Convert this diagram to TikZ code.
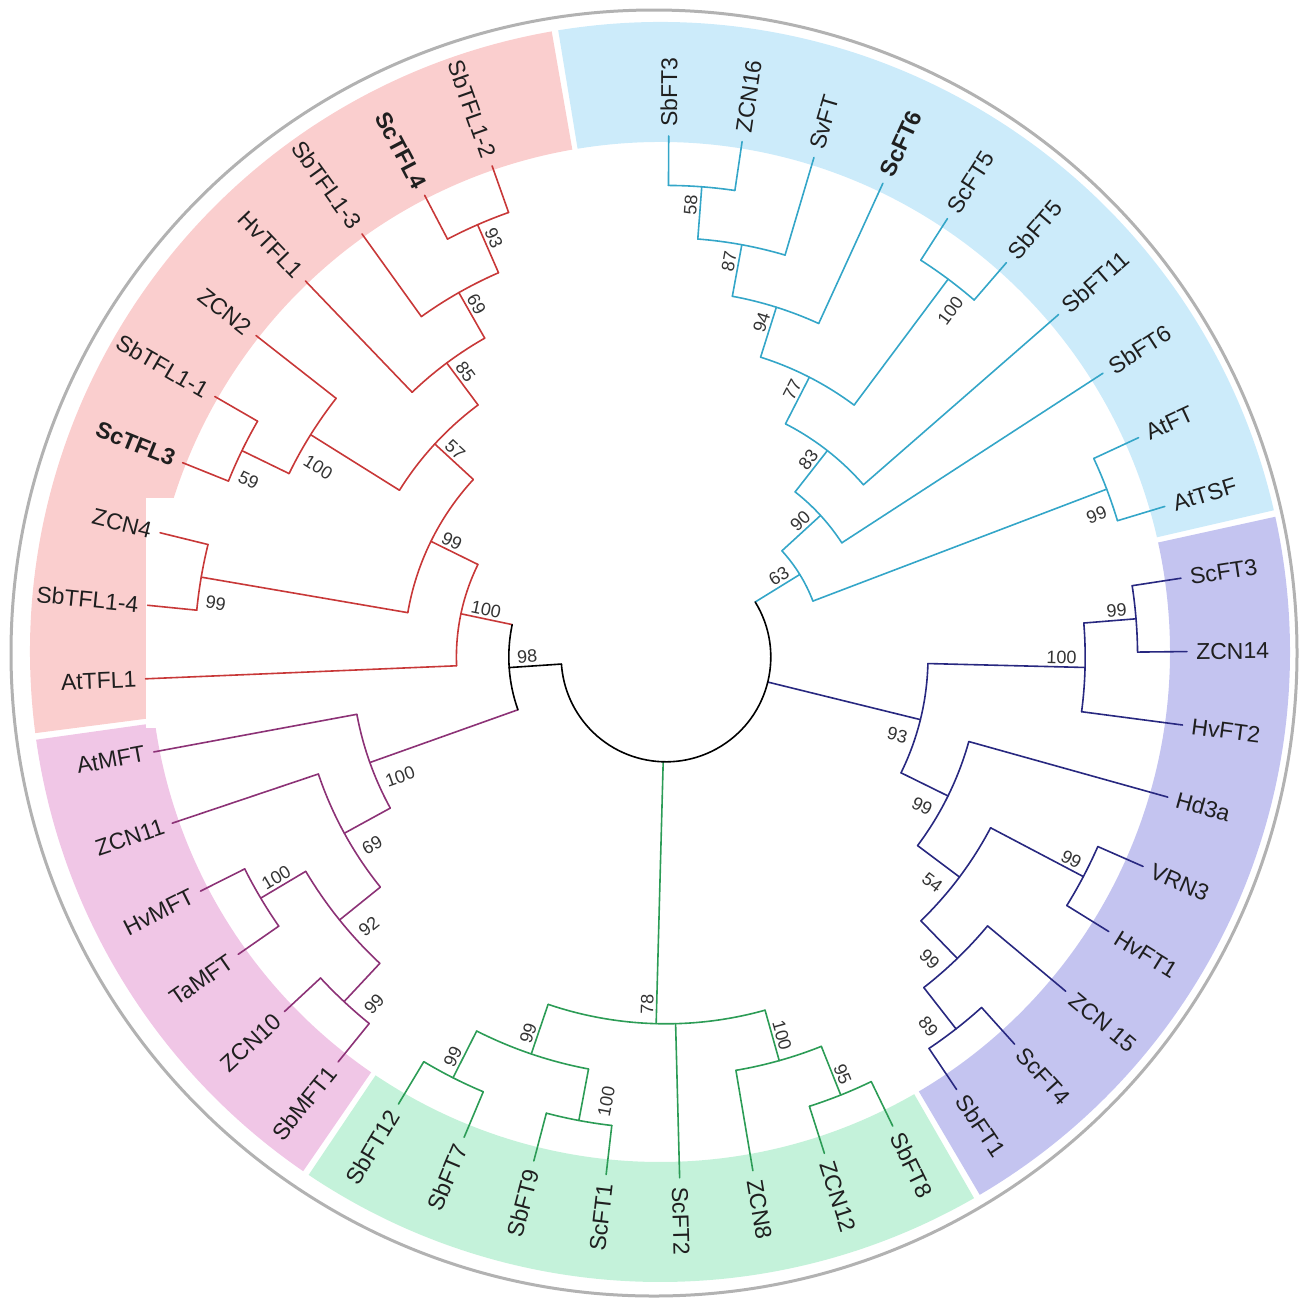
\documentclass[tikz,border=0pt]{standalone}
\usepackage{fontspec}
\setmainfont{Liberation Sans}
\usetikzlibrary{calc}

\definecolor{tflred}{RGB}{200,56,56}
\definecolor{mftpurple}{RGB}{140,50,118}
\definecolor{fegreen}{RGB}{44,156,86}
\definecolor{ftnavy}{RGB}{40,40,128}
\definecolor{ftblue}{RGB}{52,166,200}
\definecolor{bandpink}{RGB}{250,206,206}
\definecolor{bandblue}{RGB}{204,235,250}
\definecolor{bandpurple}{RGB}{196,196,240}
\definecolor{bandgreen}{RGB}{196,242,218}
\definecolor{bandmft}{RGB}{240,198,230}

\begin{document}
\begin{tikzpicture}[x=1pt,y=1pt,
  leaf/.style={font=\fontsize{23}{26}\selectfont,text=black!88,inner xsep=9pt,inner ysep=2pt},
  boot/.style={font=\fontsize{18}{20}\selectfont,text=black!80,inner xsep=1.5pt},
  bootse/.style={anchor=south east,inner ysep=3pt},
  bootsw/.style={anchor=south west,inner ysep=3pt},
  bootne/.style={anchor=north east,inner ysep=14pt},
  bootnw/.style={anchor=north west,inner ysep=17pt},
  branch/.style={line width=1.6pt,line cap=round,line join=round}]
\useasboundingbox (0,0) rectangle (1303,-1302);

% coloured bands
\begin{scope}[shift={(660,-652)}]
\foreach \col/\fa/\fb in {bandblue/13.0/99.3, bandpink/99.9/187.4, bandmft/188.0/235.5,
                          bandgreen/236.1/299.9, bandpurple/300.5/372.4}
  \fill[\col] (\fa:510) arc[start angle=\fa, end angle=\fb, radius=510]
     -- (\fb:630) arc[start angle=\fb, end angle=\fa, radius=630] -- cycle;
\end{scope}
\fill[white] (146,-498) rectangle (230,-728);
\draw[gray!60, line width=3pt] (654,-653) circle[radius=643];

\begin{scope}[shift={(666,-657)}]
% leaves
\foreach \i/\nm/\txt/\plev/\col in {
  0/sbft3/SbFT3/1/ftblue, 1/zcn16/ZCN16/1/ftblue, 2/svft/SvFT/2/ftblue,
  3/scft6/{\bfseries ScFT6}/3/ftblue, 4/scft5/ScFT5/1/ftblue, 5/sbft5/SbFT5/1/ftblue,
  6/sbft11/SbFT11/5/ftblue, 7/sbft6/SbFT6/6/ftblue, 8/atft/AtFT/1/ftblue,
  9/attsf/AtTSF/1/ftblue,
  10/scft3/ScFT3/1/ftnavy, 11/zcn14/ZCN14/1/ftnavy, 12/hvft2/HvFT2/2/ftnavy,
  13/hd3a/Hd3a/4/ftnavy, 14/vrn3/VRN3/1/ftnavy, 15/hvft1/HvFT1/1/ftnavy,
  16/zcn15/ZCN 15/2/ftnavy, 17/scft4/ScFT4/1/ftnavy, 18/sbft1/SbFT1/1/ftnavy,
  19/sbft8/SbFT8/1/fegreen, 20/zcn12/ZCN12/1/fegreen, 21/zcn8/ZCN8/2/fegreen,
  22/scft2/ScFT2/3/fegreen, 23/scft1/ScFT1/1/fegreen, 24/sbft9/SbFT9/1/fegreen,
  25/sbft7/SbFT7/1/fegreen, 26/sbft12/SbFT12/1/fegreen,
  27/sbmft1/SbMFT1/1/mftpurple, 28/zcn10/ZCN10/1/mftpurple, 29/tamft/TaMFT/1/mftpurple,
  30/hvmft/HvMFT/1/mftpurple, 31/zcn11/ZCN11/3/mftpurple, 32/atmft/AtMFT/4/mftpurple,
  33/attfl1/AtTFL1/6/tflred, 34/sbtfl14/SbTFL1-4/1/tflred, 35/zcn4/ZCN4/1/tflred,
  36/sctfl3/{\bfseries ScTFL3}/1/tflred, 37/sbtfl11/SbTFL1-1/1/tflred,
  38/zcn2/ZCN2/2/tflred, 39/hvtfl1/HvTFL1/3/tflred, 40/sbtfl13/SbTFL1-3/2/tflred,
  41/sctfl4/{\bfseries ScTFL4}/1/tflred, 42/sbtfl12/SbTFL1-2/1/tflred}{
  \pgfmathsetmacro\ang{89.7-8.1*\i}
  \pgfmathsetmacro\rpar{524-52.4*\plev}
  \coordinate (\nm) at (\ang:521);
  \coordinate (\nm-foot) at (\ang:\rpar);
  \draw[branch,\col] (\nm) -- (\nm-foot);
  \ifnum\i<23
    \node[leaf,rotate=\ang,anchor=west] (\nm-lab) at (\nm) {\txt};
  \else
    \node[leaf,rotate=\ang+180,anchor=east] (\nm-lab) at (\nm) {\txt};
  \fi
}

% inner nodes: name/angle/level/parent level/colour/bootstrap/rotation/side
\foreach \nm/\ang/\lev/\plev/\col/\bsv/\rot/\side in {
  b1/85.65/1/2/ftblue/58/85.65/bootse, b2/79.58/2/3/ftblue/87/79.58/bootse,
  b3/72.49/3/4/ftblue/94/72.49/bootse, b4/53.25/1/4/ftblue/100/53.25/bootne,
  b5/62.87/4/5/ftblue/77/62.87/bootse, b6/51.98/5/6/ftblue/83/51.98/bootse,
  b7/42.49/6/7/ftblue/90/42.49/bootse, b8/20.85/1/7/ftblue/99/20.85/bootne,
  b9/31.67/7/8/ftblue/63/31.67/bootse,
  p1/4.65/1/2/ftnavy/99/4.65/bootse, p2/-1.43/2/5/ftnavy/100/-1.43/bootse,
  p3/-27.75/1/3/ftnavy/99/-27.75/bootse, p4/-52.05/1/2/ftnavy/89/-52.05/bootne,
  p5/-45.98/2/3/ftnavy/99/-45.98/bootne, p6/-36.86/3/4/ftnavy/54/-36.86/bootne,
  p7/-26.23/4/5/ftnavy/99/-26.23/bootne, p8/-13.83/5/8/ftnavy/93/-13.83/bootne,
  g1/-116.85/1/2/fegreen/99/63.15/bootsw, g2/-100.65/1/2/fegreen/100/79.35/bootnw,
  g3/-108.75/2/3/fegreen/99/71.25/bootsw, g4/-68.25/1/2/fegreen/95/-68.25/bootse,
  g5/-74.33/2/3/fegreen/100/-74.33/bootse, g6/-91.54/3/8/fegreen/78/88.46/bootsw,
  m1/-149.25/1/2/mftpurple/100/30.75/bootsw, m2/-133.05/1/2/mftpurple/99/46.95/bootnw,
  m3/-141.15/2/3/mftpurple/92/38.85/bootnw, m4/-151.28/3/4/mftpurple/69/28.72/bootnw,
  m5/-160.39/4/7/mftpurple/100/19.61/bootnw,
  t1/-246.45/1/2/tflred/93/-66.45/bootsw, t2/-240.38/2/3/tflred/69/-60.38/bootsw,
  t3/-233.29/3/4/tflred/85/-53.29/bootsw, t4/-205.95/1/2/tflred/59/-25.95/bootnw,
  t5/-212.03/2/4/tflred/100/-32.03/bootnw, t6/-222.66/4/5/tflred/57/-42.66/bootsw,
  t7/-189.75/1/5/tflred/99/-9.75/bootnw, t8/-206.2/5/6/tflred/99/-26.2/bootsw,
  t9/-191.9/6/7/tflred/100/-11.9/bootsw,
  j98/-176.15/7/8/black/98/3.85/bootsw}{
  \pgfmathsetmacro\rad{524-52.4*\lev}
  \pgfmathsetmacro\rpar{524-52.4*\plev}
  \pgfmathsetmacro\rlab{\rad-7}
  \coordinate (\nm) at (\ang:\rad);
  \coordinate (\nm-foot) at (\ang:\rpar);
  \draw[branch,\col] (\nm) -- (\nm-foot);
  \node[boot,rotate=\rot,\side] (\nm-bs) at (\ang:\rlab) {\bsv};
}

% arcs: first child/level/from/to/colour
\foreach \first/\lev/\fa/\fb/\col in {
  sbft3/1/89.7/81.6/ftblue, b1/2/85.65/73.5/ftblue, b2/3/79.58/65.4/ftblue,
  scft5/1/57.3/49.2/ftblue, b3/4/72.49/53.25/ftblue, b5/5/62.87/41.1/ftblue,
  b6/6/51.98/33.0/ftblue, atft/1/24.9/16.8/ftblue, b7/7/42.49/20.85/ftblue,
  scft3/1/8.7/0.6/ftnavy, p1/2/4.65/-7.5/ftnavy, vrn3/1/-23.7/-31.8/ftnavy,
  scft4/1/-48.0/-56.1/ftnavy, zcn15/2/-39.9/-52.05/ftnavy, p3/3/-27.75/-45.98/ftnavy,
  hd3a/4/-15.6/-36.86/ftnavy, p2/5/-1.43/-26.23/ftnavy,
  sbft7/1/-112.8/-120.9/fegreen, scft1/1/-96.6/-104.7/fegreen,
  g2/2/-100.65/-116.85/fegreen, sbft8/1/-64.2/-72.3/fegreen,
  g4/2/-68.25/-80.4/fegreen, g5/3/-74.33/-108.75/fegreen,
  tamft/1/-145.2/-153.3/mftpurple, sbmft1/1/-129.0/-137.1/mftpurple,
  m2/2/-133.05/-149.25/mftpurple, m3/3/-141.15/-161.4/mftpurple,
  m4/4/-151.28/-169.5/mftpurple,
  sctfl4/1/-242.4/-250.5/tflred, sbtfl13/2/-234.3/-246.45/tflred,
  hvtfl1/3/-226.2/-240.38/tflred, sctfl3/1/-201.9/-210.0/tflred,
  t4/2/-205.95/-218.1/tflred, t5/4/-212.03/-233.29/tflred,
  sbtfl14/1/-185.7/-193.8/tflred, t7/5/-189.75/-222.66/tflred,
  attfl1/6/-177.6/-206.2/tflred,
  m5/7/-160.39/-191.9/black, b9/8/31.67/-176.15/black}{
  \pgfmathsetmacro\rad{524-52.4*\lev}
  \draw[branch,\col] (\first-foot) arc[start angle=\fa, end angle=\fb, radius=\rad];
}
\end{scope}
\end{tikzpicture}
\end{document}
